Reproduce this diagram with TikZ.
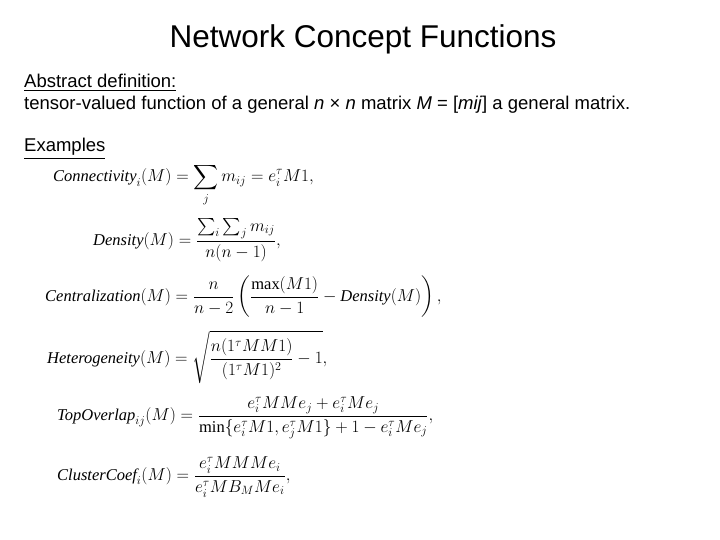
\documentclass[tikz,border=0pt]{standalone}
\usepackage{amsmath}
\usepackage{fontspec}
\setmainfont{Liberation Sans}
\newfontfamily\serifx{Liberation Serif}
\newcommand{\mt}[1]{\text{\serifx\itshape #1}}
\newcommand{\rmx}[1]{\text{\serifx #1}}
\begin{document}
\begin{tikzpicture}[x=1pt,y=-1pt,
  txt/.style={anchor=base west,inner sep=0pt,font=\fontsize{18.5}{22}\selectfont},
  eq/.style={anchor=west,inner sep=0pt,font=\fontsize{16.5}{19}\selectfont}]
\useasboundingbox (0,0) rectangle (720,540);
\node[anchor=base,inner sep=0pt,font=\fontsize{31.5}{36}\selectfont] (title) at (363,48) {Network Concept Functions};
\node[txt] (abs) at (24,88) {\underline{Abstract definition:}};
\node[txt] (def) at (24,110) {tensor-valued function of a general \textit{n} × \textit{n} matrix \textit{M} = [\textit{mij}] a general matrix.};
\node[txt] (ex) at (24,152) {\underline{Examples}};
\node[eq] (f1) at (53,185) {$\displaystyle \mt{Connectivity}_i(M)=\sum_j m_{ij}=e_i^\tau M1,$};
\node[eq] (f2) at (93,240) {$\displaystyle \mt{Density}(M)=\frac{\sum_i\sum_j m_{ij}}{n(n-1)},$};
\node[eq] (f3) at (45,297) {$\displaystyle \mt{Centralization}(M)=\frac{n}{n-2}\left(\frac{\rmx{max}(M1)}{n-1}-\mt{Density}(M)\right),$};
\node[eq] (f4) at (47,357) {$\displaystyle \mt{Heterogeneity}(M)=\sqrt{\frac{n(1^\tau MM1)}{(1^\tau M1)^2}-1},$};
\node[eq] (f5) at (57,418) {$\displaystyle \mt{TopOverlap}_{ij}(M)=\frac{e_i^\tau MMe_j+e_i^\tau Me_j}{\rmx{min}\{e_i^\tau M1,e_j^\tau M1\}+1-e_i^\tau Me_j},$};
\node[eq] (f6) at (57,477) {$\displaystyle \mt{ClusterCoef}_i(M)=\frac{e_i^\tau MMMe_i}{e_i^\tau MB_MMe_i},$};
\end{tikzpicture}
\end{document}
